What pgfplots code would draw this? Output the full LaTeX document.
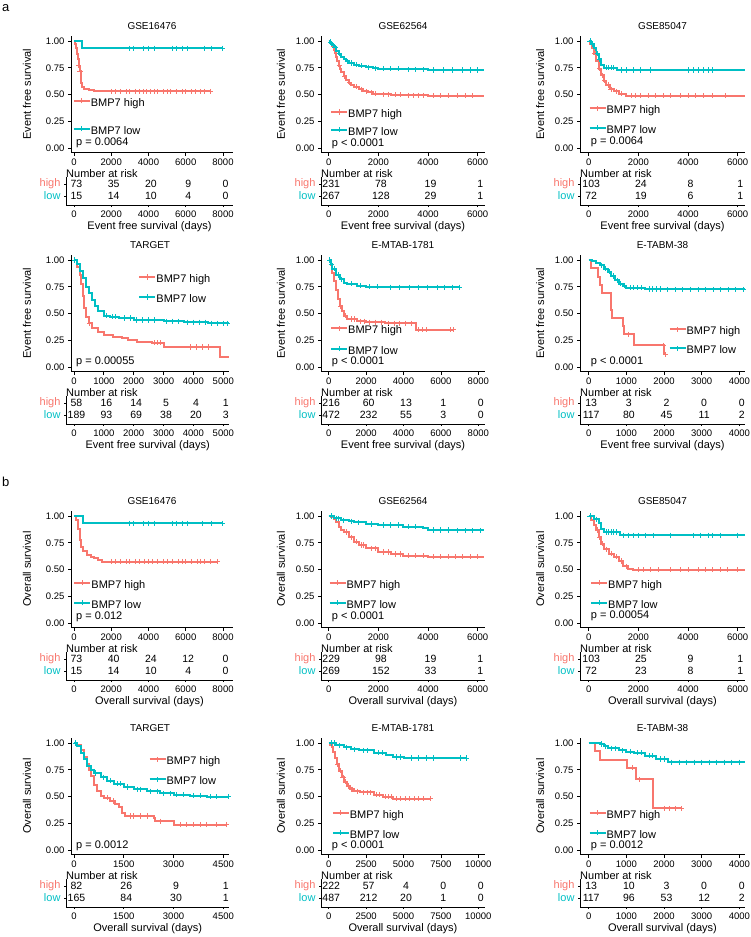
\documentclass[border=0pt]{standalone}
\usepackage{fontspec}
\setmainfont{Liberation Sans}
\usepackage{pgfplots}
\pgfplotsset{compat=1.18}
\definecolor{kmred}{HTML}{F8766D}
\definecolor{kmteal}{HTML}{00BFC4}
\tikzset{pv/.style={anchor=west, inner sep=0pt, font=\fontsize{11}{12}\selectfont}}
\pgfplotsset{
 every axis title shift=0pt,
 base/.style={scale only axis, clip=false, axis x line*=bottom, axis y line*=left,
   axis line style={-, line width=0.9pt, black},
   tick align=outside, major tick length=3pt, tick style={line width=0.8pt, black},
   tick label style={font=\fontsize{9.5}{10}\selectfont, black},
   scaled x ticks=false,
   /pgf/number format/1000 sep={}, /pgf/number format/assume math mode=true,
   minor tick num=0, anchor=south west},
 km/.style={base, height=117pt, ymin=-0.04, ymax=1.05, ytick={0,0.25,0.5,0.75,1},
   yticklabel style={/pgf/number format/.cd, fixed, fixed zerofill, precision=2},
   ylabel style={anchor=center, font=\fontsize{11}{12}\selectfont},
   title style={at={(axis description cs:0.5,1)}, anchor=base, yshift=6.5pt, font=\fontsize{10}{11}\selectfont},
   legend style={draw=none, fill=none, inner sep=0pt, anchor=north west, font=\fontsize{11}{12}\selectfont,
     nodes={inner sep=0pt, text height=7.5pt, text depth=2.5pt}, /tikz/every even column/.style={column sep=5pt}},
   legend cell align=left},
 hi/.style={kmred, line width=2pt, const plot, mark=none, forget plot},
 lo/.style={kmteal, line width=2pt, const plot, mark=none, forget plot},
 hic/.style={kmred, only marks, mark=+, mark size=2.6pt, mark options={line width=0.8pt}, forget plot},
 loc/.style={kmteal, only marks, mark=+, mark size=2.6pt, mark options={line width=0.8pt}, forget plot},
 leghi/.style={legend image code/.code={\draw[kmred, line width=2pt] (0pt,3pt)--(16pt,3pt); \draw[kmred, line width=0.8pt] (8pt,0.4pt)--(8pt,5.6pt);}},
 leglo/.style={legend image code/.code={\draw[kmteal, line width=2pt] (0pt,3pt)--(16pt,3pt); \draw[kmteal, line width=0.8pt] (8pt,0.4pt)--(8pt,5.6pt);}},
 rt/.style={base, height=28pt, ymin=0.25, ymax=2.583, ytick={1,2},
   yticklabels={{\textcolor{kmteal}{low}},{\textcolor{kmred}{high}}},
   yticklabel style={font=\fontsize{11}{12}\selectfont}, major tick length=2pt,
   title={Number at risk}, title style={at={(axis description cs:0,1)}, anchor=west, yshift=3.5pt, inner sep=0pt, font=\fontsize{11}{12}\selectfont},
   xlabel style={at={(axis description cs:0.5,0)}, anchor=center, yshift=-22pt, font=\fontsize{11}{12}\selectfont},
   nodes near coords style={font=\fontsize{10.5}{12}\selectfont, anchor=center, black, inner sep=0pt, xshift=2.5pt}},
 rn/.style={draw=none, mark=none, nodes near coords, point meta=explicit symbolic},
}
\begin{document}
\begin{tikzpicture}
\useasboundingbox (0,0) rectangle (750pt,-937pt);
\node[anchor=base west, inner sep=0pt, font=\fontsize{13}{14}\selectfont] at (2pt,-11pt) {a};
\node[anchor=base west, inner sep=0pt, font=\fontsize{13}{14}\selectfont] at (2pt,-486pt) {b};

% ================= A1 GSE16476 EFS
\begin{axis}[km, at={(71pt,-152.6pt)}, width=162pt, xmin=-161, xmax=8537, xtick={0,2000,...,8000},
  title={GSE16476}, ylabel={Event free survival}, ylabel style={at={(axis description cs:-0.272,0.5)}},
  legend style={at={(axis cs:-70,0.472)}, row sep=16.7pt}]
\addlegendimage{leghi}\addlegendentry{BMP7 high}
\addlegendimage{leglo}\addlegendentry{BMP7 low}
\addplot[hi] coordinates {(0,1)(50,0.97)(100,0.93)(150,0.88)(200,0.83)(250,0.77)(300,0.72)(350,0.66)(400,0.61)(450,0.57)(550,0.55)(800,0.545)(1100,0.53)(7300,0.53)};
\addplot[hic] coordinates {(260,0.77)(320,0.72)(2000,0.53)(2200,0.53)(2500,0.53)(2800,0.53)(3000,0.53)(3300,0.53)(3500,0.53)(3700,0.53)(3900,0.53)(4100,0.53)(4300,0.53)(4500,0.53)(4800,0.53)(5000,0.53)(5200,0.53)(5500,0.53)(5800,0.53)(6000,0.53)(6300,0.53)(6500,0.53)(6800,0.53)(7000,0.53)(7300,0.53)};
\addplot[lo] coordinates {(0,1)(410,0.933)(7950,0.933)};
\addplot[loc] coordinates {(3000,0.933)(3200,0.933)(3700,0.933)(4000,0.933)(4300,0.933)(5300,0.933)(5500,0.933)(5800,0.933)(6100,0.933)(7000,0.933)(7400,0.933)(7950,0.933)};
\node[pv] at (axis cs:107,0.052) {p = 0.0064};
\end{axis}
\begin{axis}[rt, at={(66pt,-205pt)}, width=167pt, xmin=-429, xmax=8537, xtick={0,2000,...,8000}, xlabel={Event free survival (days)}]
\addplot[rn] coordinates {(0,2)[73] (2000,2)[35] (4000,2)[20] (6000,2)[9] (8000,2)[0] (0,1)[15] (2000,1)[14] (4000,1)[10] (6000,1)[4] (8000,1)[0]};
\end{axis}

% ================= A2 GSE62564 EFS
\begin{axis}[km, at={(321pt,-152.6pt)}, width=164pt, xmin=-310, xmax=6294, xtick={0,2000,...,6000},
  title={GSE62564}, ylabel={Event free survival}, ylabel style={at={(axis description cs:-0.244,0.5)}},
  legend style={at={(axis cs:52,0.369)}, row sep=6.7pt}]
\addlegendimage{leghi}\addlegendentry{BMP7 high}
\addlegendimage{leglo}\addlegendentry{BMP7 low}
\addplot[hi] coordinates {(0,1)(50,0.985)(100,0.97)(150,0.95)(200,0.92)(250,0.89)(300,0.85)(350,0.81)(400,0.77)(450,0.74)(500,0.71)(600,0.67)(700,0.64)(800,0.61)(900,0.59)(1000,0.575)(1200,0.55)(1400,0.53)(1600,0.52)(1800,0.51)(2000,0.505)(2500,0.50)(3000,0.495)(4000,0.49)(6250,0.49)};
\addplot[hic] coordinates {(420,0.77)(650,0.67)(850,0.61)(1100,0.575)(1300,0.55)(1500,0.53)(1700,0.52)(1900,0.51)(2200,0.505)(2400,0.505)(2700,0.50)(2900,0.50)(3200,0.495)(3400,0.495)(3600,0.495)(3800,0.495)(4200,0.49)(4500,0.49)(4800,0.49)(5200,0.49)(5500,0.49)(5800,0.49)};
\addplot[lo] coordinates {(0,1)(50,0.99)(100,0.975)(150,0.96)(200,0.94)(300,0.91)(400,0.88)(500,0.85)(600,0.83)(700,0.81)(800,0.795)(1000,0.78)(1200,0.77)(1500,0.755)(1800,0.745)(2000,0.74)(3000,0.735)(4000,0.73)(6250,0.73)};
\addplot[loc] coordinates {(80,0.99)(120,0.975)(250,0.94)(450,0.88)(750,0.81)(900,0.795)(1100,0.78)(1300,0.77)(1600,0.755)(1900,0.745)(2200,0.74)(2500,0.74)(2800,0.74)(3200,0.735)(3500,0.735)(3800,0.735)(4200,0.73)(4600,0.73)(5000,0.73)(5400,0.73)(5700,0.73)(6000,0.73)};
\node[pv] at (axis cs:121,0.043) {p < 0.0001};
\end{axis}
\begin{axis}[rt, at={(321pt,-205pt)}, width=164pt, xmin=-310, xmax=6294, xtick={0,2000,...,6000}, xlabel={Event free survival (days)}]
\addplot[rn] coordinates {(0,2)[231] (2000,2)[78] (4000,2)[19] (6000,2)[1] (0,1)[267] (2000,1)[128] (4000,1)[29] (6000,1)[1]};
\end{axis}

% ================= A3 GSE85047 EFS
\begin{axis}[km, at={(580pt,-152.6pt)}, width=165pt, xmin=-350, xmax=6294, xtick={0,2000,...,6000},
  title={GSE85047}, ylabel={Event free survival}, ylabel style={at={(axis description cs:-0.242,0.5)}},
  legend style={at={(axis cs:-16,0.401)}, row sep=8.3pt}]
\addlegendimage{leghi}\addlegendentry{BMP7 high}
\addlegendimage{leglo}\addlegendentry{BMP7 low}
\addplot[hi] coordinates {(0,1)(60,0.97)(120,0.93)(200,0.88)(300,0.81)(400,0.74)(500,0.68)(600,0.63)(700,0.59)(850,0.55)(1000,0.53)(1200,0.51)(1500,0.49)(6300,0.49)};
\addplot[hic] coordinates {(250,0.88)(450,0.74)(550,0.68)(650,0.63)(800,0.59)(900,0.55)(1100,0.53)(1300,0.51)(1700,0.49)(1900,0.49)(2100,0.49)(2400,0.49)(2700,0.49)(3000,0.49)(3300,0.49)(3700,0.49)(4000,0.49)(4300,0.49)(4600,0.49)(5000,0.49)(5500,0.49)};
\addplot[lo] coordinates {(0,1)(100,0.97)(200,0.93)(300,0.88)(400,0.83)(500,0.78)(600,0.75)(1150,0.73)(6300,0.73)};
\addplot[loc] coordinates {(50,1)(150,0.97)(350,0.88)(450,0.83)(700,0.75)(800,0.75)(900,0.75)(1000,0.75)(1300,0.73)(1500,0.73)(1800,0.73)(2100,0.73)(2500,0.73)(4000,0.73)(4200,0.73)(4400,0.73)(4600,0.73)(4800,0.73)(5000,0.73)};
\node[pv] at (axis cs:80,0.056) {p = 0.0064};
\end{axis}
\begin{axis}[rt, at={(580pt,-205pt)}, width=165pt, xmin=-350, xmax=6294, xtick={0,2000,...,6000}, xlabel={Event free survival (days)}]
\addplot[rn] coordinates {(0,2)[103] (2000,2)[24] (4000,2)[8] (6000,2)[1] (0,1)[72] (2000,1)[19] (4000,1)[6] (6000,1)[1]};
\end{axis}

% ================= A4 TARGET EFS
\begin{axis}[km, at={(71pt,-371.6pt)}, width=158.3pt, xmin=-100, xmax=5201, xtick={0,1000,...,5000},
  title={TARGET}, ylabel={Event free survival}, ylabel style={at={(axis description cs:-0.278,0.5)}},
  legend style={at={(axis cs:2153,0.872)}, row sep=9pt}]
\addlegendimage{leghi}\addlegendentry{BMP7 high}
\addlegendimage{leglo}\addlegendentry{BMP7 low}
\addplot[hi] coordinates {(0,1)(100,0.93)(200,0.86)(250,0.78)(300,0.66)(350,0.55)(400,0.47)(500,0.41)(600,0.37)(800,0.33)(1000,0.30)(1300,0.28)(1600,0.27)(1800,0.25)(2100,0.24)(2600,0.23)(3000,0.19)(4900,0.10)(5200,0.10)};
\addplot[hic] coordinates {(520,0.41)(2700,0.23)(2800,0.23)(2900,0.23)(3900,0.19)(4100,0.19)(4300,0.19)(4500,0.19)};
\addplot[lo] coordinates {(0,1)(100,0.96)(200,0.90)(300,0.83)(400,0.75)(500,0.69)(600,0.63)(700,0.57)(800,0.52)(1000,0.48)(1200,0.47)(1500,0.46)(2000,0.44)(3000,0.43)(3700,0.42)(4500,0.41)(5200,0.41)};
\addplot[loc] coordinates {(30,1)(1100,0.48)(1300,0.47)(1400,0.47)(1700,0.46)(1900,0.46)(2100,0.44)(2300,0.44)(2500,0.44)(2700,0.44)(3100,0.43)(3300,0.43)(3500,0.43)(3800,0.42)(4000,0.42)(4200,0.42)(4400,0.42)(4600,0.41)(4800,0.41)(5000,0.41)(5150,0.41)};
\node[pv] at (axis cs:67,0.052) {p = 0.00055};
\end{axis}
\begin{axis}[rt, at={(66pt,-424pt)}, width=163.3pt, xmin=-267.5, xmax=5201, xtick={0,1000,...,5000}, xlabel={Event free survival (days)}]
\addplot[rn] coordinates {(0,2)[58] (1000,2)[16] (2000,2)[14] (3000,2)[5] (4000,2)[4] (5000,2)[1] (0,1)[189] (1000,1)[93] (2000,1)[69] (3000,1)[38] (4000,1)[20] (5000,1)[3]};
\end{axis}

% ================= A5 E-MTAB-1781 EFS
\begin{axis}[km, at={(321pt,-371.6pt)}, width=164pt, xmin=-412, xmax=8358, xtick={0,2000,...,8000},
  title={E-MTAB-1781}, ylabel={Event free survival}, ylabel style={at={(axis description cs:-0.244,0.5)}},
  legend style={at={(axis cs:70,0.394)}, row sep=9.3pt}]
\addlegendimage{leghi}\addlegendentry{BMP7 high}
\addlegendimage{leglo}\addlegendentry{BMP7 low}
\addplot[hi] coordinates {(0,1)(100,0.95)(200,0.88)(300,0.80)(400,0.72)(500,0.64)(600,0.57)(700,0.52)(800,0.48)(1000,0.45)(1500,0.43)(2000,0.42)(3000,0.41)(4650,0.35)(6650,0.35)};
\addplot[hic] coordinates {(650,0.57)(900,0.48)(1200,0.45)(1400,0.45)(1700,0.43)(1900,0.43)(2200,0.42)(2500,0.42)(2800,0.42)(3200,0.41)(3500,0.41)(3800,0.41)(4100,0.41)(4400,0.41)(4800,0.35)(5000,0.35)(5200,0.35)(6500,0.35)(6650,0.35)};
\addplot[lo] coordinates {(0,1)(100,0.96)(200,0.92)(400,0.86)(600,0.82)(800,0.79)(1000,0.78)(1500,0.76)(2000,0.75)(3000,0.745)(7000,0.745)};
\addplot[loc] coordinates {(50,1)(150,0.96)(300,0.92)(500,0.86)(700,0.82)(1200,0.78)(1700,0.76)(2200,0.75)(2600,0.75)(3300,0.745)(3800,0.745)(4300,0.745)(4800,0.745)(5300,0.745)(5800,0.745)(6200,0.745)(6600,0.745)(7000,0.745)};
\node[pv] at (axis cs:160,0.052) {p < 0.0001};
\end{axis}
\begin{axis}[rt, at={(321pt,-424pt)}, width=164pt, xmin=-412, xmax=8358, xtick={0,2000,...,8000}, xlabel={Event free survival (days)}]
\addplot[rn] coordinates {(0,2)[216] (2000,2)[60] (4000,2)[13] (6000,2)[1] (8000,2)[0] (0,1)[472] (2000,1)[232] (4000,1)[55] (6000,1)[3] (8000,1)[0]};
\end{axis}

% ================= A6 E-TABM-38 EFS
\begin{axis}[km, at={(580pt,-371.6pt)}, width=165pt, xmin=-231, xmax=4151, xtick={0,1000,...,4000},
  title={E-TABM-38}, ylabel={Event free survival}, ylabel style={at={(axis description cs:-0.242,0.5)}},
  legend style={at={(axis cs:2114,0.385)}, row sep=8.3pt}]
\addlegendimage{leghi}\addlegendentry{BMP7 high}
\addlegendimage{leglo}\addlegendentry{BMP7 low}
\addplot[hi] coordinates {(0,1)(50,0.923)(250,0.846)(300,0.769)(350,0.692)(590,0.615)(600,0.538)(610,0.462)(900,0.385)(950,0.308)(1200,0.205)(2000,0.12)(2050,0.12)};
\addplot[hic] coordinates {(1050,0.308)(1980,0.205)(2050,0.12)};
\addplot[lo] coordinates {(0,1)(100,0.99)(200,0.97)(300,0.95)(400,0.92)(500,0.89)(600,0.85)(700,0.81)(800,0.78)(900,0.76)(1000,0.74)(1500,0.73)(2000,0.725)(4150,0.725)};
\addplot[loc] coordinates {(350,0.95)(450,0.92)(550,0.89)(650,0.85)(750,0.81)(850,0.78)(950,0.76)(1100,0.74)(1200,0.74)(1300,0.74)(1400,0.74)(1600,0.73)(1700,0.73)(1800,0.73)(1900,0.73)(2100,0.725)(2300,0.725)(2500,0.725)(2700,0.725)(2900,0.725)(3100,0.725)(3300,0.725)(3500,0.725)(3700,0.725)(3900,0.725)(4100,0.725)};
\node[pv] at (axis cs:53,0.052) {p < 0.0001};
\end{axis}
\begin{axis}[rt, at={(580pt,-424pt)}, width=165pt, xmin=-231, xmax=4151, xtick={0,1000,...,4000}, xlabel={Event free survival (days)}]
\addplot[rn] coordinates {(0,2)[13] (1000,2)[3] (2000,2)[2] (3000,2)[0] (4000,2)[0] (0,1)[117] (1000,1)[80] (2000,1)[45] (3000,1)[11] (4000,1)[2]};
\end{axis}

% ================= B1 GSE16476 OS
\begin{axis}[km, at={(71pt,-627.6pt)}, width=162pt, xmin=-161, xmax=8537, xtick={0,2000,...,8000},
  title={GSE16476}, ylabel={Overall survival}, ylabel style={at={(axis description cs:-0.272,0.5)}},
  legend style={at={(axis cs:-38,0.410)}, row sep=9pt}]
\addlegendimage{leghi}\addlegendentry{BMP7 high}
\addlegendimage{leglo}\addlegendentry{BMP7 low}
\addplot[hi] coordinates {(0,1)(100,0.96)(200,0.88)(300,0.78)(400,0.71)(500,0.67)(700,0.64)(900,0.62)(1100,0.61)(1300,0.59)(1500,0.575)(7700,0.575)};
\addplot[hic] coordinates {(2000,0.575)(2200,0.575)(2500,0.575)(2800,0.575)(3000,0.575)(3300,0.575)(3500,0.575)(3800,0.575)(4000,0.575)(4200,0.575)(4500,0.575)(4800,0.575)(5000,0.575)(5300,0.575)(5600,0.575)(5800,0.575)(6000,0.575)(6300,0.575)(6600,0.575)(6800,0.575)(7000,0.575)(7300,0.575)(7700,0.575)};
\addplot[lo] coordinates {(0,1)(500,0.933)(7950,0.933)};
\addplot[loc] coordinates {(3000,0.933)(3200,0.933)(3700,0.933)(4000,0.933)(4300,0.933)(5300,0.933)(5500,0.933)(5800,0.933)(6100,0.933)(6900,0.933)(7400,0.933)(7950,0.933)};
\node[pv] at (axis cs:107,0.062) {p = 0.012};
\end{axis}
\begin{axis}[rt, at={(66pt,-680pt)}, width=167pt, xmin=-429, xmax=8537, xtick={0,2000,...,8000}, xlabel={Overall survival (days)}]
\addplot[rn] coordinates {(0,2)[73] (2000,2)[40] (4000,2)[24] (6000,2)[12] (8000,2)[0] (0,1)[15] (2000,1)[14] (4000,1)[10] (6000,1)[4] (8000,1)[0]};
\end{axis}

% ================= B2 GSE62564 OS
\begin{axis}[km, at={(321pt,-627.6pt)}, width=164pt, xmin=-310, xmax=6294, xtick={0,2000,...,6000},
  title={GSE62564}, ylabel={Overall survival}, ylabel style={at={(axis description cs:-0.244,0.5)}},
  legend style={at={(axis cs:-16,0.410)}, row sep=9pt}]
\addlegendimage{leghi}\addlegendentry{BMP7 high}
\addlegendimage{leglo}\addlegendentry{BMP7 low}
\addplot[hi] coordinates {(0,1)(100,0.99)(200,0.97)(300,0.94)(400,0.90)(500,0.87)(600,0.85)(800,0.80)(1000,0.76)(1200,0.73)(1500,0.70)(2000,0.665)(2500,0.645)(3000,0.63)(4000,0.62)(6250,0.62)};
\addplot[hic] coordinates {(700,0.85)(900,0.80)(1100,0.76)(1300,0.73)(1400,0.73)(1700,0.70)(1900,0.70)(2200,0.665)(2400,0.665)(2700,0.645)(2900,0.645)(3200,0.63)(3500,0.63)(3800,0.63)(4200,0.62)(4500,0.62)(4800,0.62)(5100,0.62)(5400,0.62)(5700,0.62)(6000,0.62)};
\addplot[lo] coordinates {(0,1)(200,0.98)(500,0.96)(800,0.95)(1000,0.94)(1500,0.925)(2000,0.915)(3000,0.90)(3800,0.89)(4000,0.87)(5000,0.865)(6250,0.865)};
\addplot[loc] coordinates {(100,1)(300,0.98)(400,0.98)(600,0.96)(900,0.95)(1200,0.94)(1700,0.925)(2200,0.915)(2500,0.915)(2800,0.915)(3200,0.90)(3500,0.90)(4200,0.87)(4500,0.87)(4800,0.87)(5200,0.865)(5500,0.865)(5800,0.865)(6100,0.865)};
\node[pv] at (axis cs:121,0.062) {p < 0.0001};
\end{axis}
\begin{axis}[rt, at={(321pt,-680pt)}, width=164pt, xmin=-310, xmax=6294, xtick={0,2000,...,6000}, xlabel={Overall survival (days)}]
\addplot[rn] coordinates {(0,2)[229] (2000,2)[98] (4000,2)[19] (6000,2)[1] (0,1)[269] (2000,1)[152] (4000,1)[33] (6000,1)[1]};
\end{axis}

% ================= B3 GSE85047 OS
\begin{axis}[km, at={(580pt,-627.6pt)}, width=165pt, xmin=-350, xmax=6294, xtick={0,2000,...,6000},
  title={GSE85047}, ylabel={Overall survival}, ylabel style={at={(axis description cs:-0.242,0.5)}},
  legend style={at={(axis cs:52,0.410)}, row sep=9pt}]
\addlegendimage{leghi}\addlegendentry{BMP7 high}
\addlegendimage{leglo}\addlegendentry{BMP7 low}
\addplot[hi] coordinates {(0,1)(100,0.96)(200,0.92)(300,0.87)(400,0.80)(500,0.74)(600,0.69)(800,0.65)(1000,0.62)(1200,0.58)(1400,0.53)(1600,0.51)(1800,0.50)(6300,0.50)};
\addplot[hic] coordinates {(350,0.87)(450,0.80)(550,0.74)(700,0.69)(900,0.65)(1100,0.62)(1300,0.58)(1500,0.53)(2000,0.50)(2200,0.50)(2500,0.50)(2800,0.50)(3300,0.50)(3700,0.50)(4000,0.50)(4400,0.50)(4700,0.50)(5000,0.50)(5300,0.50)(5600,0.50)(6000,0.50)};
\addplot[lo] coordinates {(0,1)(200,0.97)(400,0.93)(500,0.88)(600,0.85)(1250,0.82)(6300,0.82)};
\addplot[loc] coordinates {(50,1)(300,0.97)(700,0.85)(800,0.85)(900,0.85)(1000,0.85)(1100,0.85)(1400,0.82)(1600,0.82)(1800,0.82)(2000,0.82)(2300,0.82)(2600,0.82)(3300,0.82)(4200,0.82)(4500,0.82)(4800,0.82)(5000,0.82)(5300,0.82)(6000,0.82)};
\node[pv] at (axis cs:80,0.068) {p = 0.00054};
\end{axis}
\begin{axis}[rt, at={(580pt,-680pt)}, width=165pt, xmin=-350, xmax=6294, xtick={0,2000,...,6000}, xlabel={Overall survival (days)}]
\addplot[rn] coordinates {(0,2)[103] (2000,2)[25] (4000,2)[9] (6000,2)[1] (0,1)[72] (2000,1)[23] (4000,1)[8] (6000,1)[1]};
\end{axis}

% ================= B4 TARGET OS
\begin{axis}[km, at={(71pt,-854.6pt)}, width=158.3pt, xmin=-90, xmax=4681, xtick={0,1500,3000,4500},
  title={TARGET}, ylabel={Overall survival}, ylabel style={at={(axis description cs:-0.278,0.5)}},
  legend style={at={(axis cs:2240,0.879)}, row sep=9pt}]
\addlegendimage{leghi}\addlegendentry{BMP7 high}
\addlegendimage{leglo}\addlegendentry{BMP7 low}
\addplot[hi] coordinates {(0,1)(100,0.98)(200,0.93)(300,0.87)(400,0.80)(450,0.75)(500,0.69)(600,0.61)(700,0.55)(800,0.51)(900,0.49)(1100,0.46)(1250,0.43)(1350,0.40)(1450,0.35)(1550,0.32)(2400,0.30)(2450,0.27)(3000,0.24)(4600,0.24)};
\addplot[hic] coordinates {(1000,0.49)(1200,0.46)(1700,0.32)(1800,0.32)(2000,0.32)(2200,0.32)(2600,0.27)(3200,0.24)(3400,0.24)(3600,0.24)(3800,0.24)(4000,0.24)(4300,0.24)(4600,0.24)};
\addplot[lo] coordinates {(0,1)(100,0.97)(200,0.91)(300,0.85)(400,0.79)(500,0.75)(600,0.72)(800,0.68)(1000,0.65)(1200,0.62)(1500,0.59)(1800,0.57)(2200,0.55)(2600,0.53)(3000,0.52)(3500,0.51)(4000,0.50)(4650,0.50)};
\addplot[loc] coordinates {(50,1)(650,0.72)(900,0.68)(1100,0.65)(1300,0.62)(1400,0.62)(1600,0.59)(1900,0.57)(2000,0.57)(2300,0.55)(2500,0.55)(2700,0.53)(2900,0.53)(3100,0.52)(3300,0.52)(3600,0.51)(3800,0.51)(4100,0.50)(4300,0.50)(4650,0.50)};
\node[pv] at (axis cs:60,0.043) {p = 0.0012};
\end{axis}
\begin{axis}[rt, at={(66pt,-907pt)}, width=163.3pt, xmin=-240.7, xmax=4681, xtick={0,1500,3000,4500}, xlabel={Overall survival (days)}]
\addplot[rn] coordinates {(0,2)[82] (1500,2)[26] (3000,2)[9] (4500,2)[1] (0,1)[165] (1500,1)[84] (3000,1)[30] (4500,1)[1]};
\end{axis}

% ================= B5 E-MTAB-1781 OS
\begin{axis}[km, at={(321pt,-854.6pt)}, width=164pt, xmin=-515, xmax=10448, xtick={0,2500,...,10000},
  title={E-MTAB-1781}, ylabel={Overall survival}, ylabel style={at={(axis description cs:-0.244,0.5)}},
  legend style={at={(axis cs:200,0.382)}, row sep=9pt}]
\addlegendimage{leghi}\addlegendentry{BMP7 high}
\addlegendimage{leglo}\addlegendentry{BMP7 low}
\addplot[hi] coordinates {(0,1)(100,0.985)(200,0.96)(300,0.92)(400,0.86)(535,0.80)(700,0.74)(870,0.68)(1000,0.64)(1200,0.60)(1425,0.57)(1700,0.55)(2090,0.54)(3000,0.52)(3650,0.50)(4320,0.48)(6770,0.48)};
\addplot[hic] coordinates {(600,0.80)(800,0.74)(950,0.68)(1100,0.64)(1300,0.60)(1500,0.57)(1600,0.57)(1900,0.55)(2300,0.54)(2600,0.54)(2800,0.54)(3200,0.52)(3400,0.52)(3800,0.50)(4000,0.50)(4200,0.50)(4500,0.48)(4800,0.48)(5100,0.48)(5400,0.48)(5700,0.48)(6000,0.48)(6300,0.48)(6770,0.48)};
\addplot[lo] coordinates {(0,1)(500,0.98)(1000,0.96)(1500,0.94)(2000,0.93)(3000,0.91)(3800,0.89)(4300,0.87)(5000,0.86)(9200,0.86)};
\addplot[loc] coordinates {(200,1)(400,1)(700,0.98)(1200,0.96)(1700,0.94)(2300,0.93)(2600,0.93)(3300,0.91)(3600,0.91)(4500,0.87)(4800,0.87)(5500,0.86)(6000,0.86)(6500,0.86)(7000,0.86)(8800,0.86)(9200,0.86)};
\node[pv] at (axis cs:200,0.043) {p < 0.0001};
\end{axis}
\begin{axis}[rt, at={(321pt,-907pt)}, width=164pt, xmin=-515, xmax=10448, xtick={0,2500,...,10000}, xlabel={Overall survival (days)}]
\addplot[rn] coordinates {(0,2)[222] (2500,2)[57] (5000,2)[4] (7500,2)[0] (10000,2)[0] (0,1)[487] (2500,1)[212] (5000,1)[20] (7500,1)[1] (10000,1)[0]};
\end{axis}

% ================= B6 E-TABM-38 OS
\begin{axis}[km, at={(580pt,-854.6pt)}, width=165pt, xmin=-231, xmax=4151, xtick={0,1000,...,4000},
  title={E-TABM-38}, ylabel={Overall survival}, ylabel style={at={(axis description cs:-0.242,0.5)}},
  legend style={at={(axis cs:-10,0.382)}, row sep=9pt}]
\addlegendimage{leghi}\addlegendentry{BMP7 high}
\addlegendimage{leglo}\addlegendentry{BMP7 low}
\addplot[hi] coordinates {(0,1)(170,0.923)(300,0.846)(1010,0.77)(1250,0.66)(1700,0.39)(2450,0.39)};
\addplot[hic] coordinates {(1150,0.77)(1350,0.66)(2000,0.39)(2150,0.39)(2300,0.39)(2450,0.39)};
\addplot[lo] coordinates {(0,1)(300,0.99)(400,0.97)(500,0.95)(800,0.93)(1000,0.92)(1200,0.91)(1500,0.88)(1800,0.85)(2100,0.82)(4150,0.82)};
\addplot[loc] coordinates {(350,0.99)(450,0.97)(600,0.95)(700,0.95)(900,0.93)(1100,0.92)(1300,0.91)(1400,0.91)(1600,0.88)(1700,0.88)(1900,0.85)(2000,0.85)(2200,0.82)(2400,0.82)(2600,0.82)(2800,0.82)(3000,0.82)(3200,0.82)(3400,0.82)(3600,0.82)(3800,0.82)(4000,0.82)};
\node[pv] at (axis cs:53,0.043) {p = 0.0012};
\end{axis}
\begin{axis}[rt, at={(580pt,-907pt)}, width=165pt, xmin=-231, xmax=4151, xtick={0,1000,...,4000}, xlabel={Overall survival (days)}]
\addplot[rn] coordinates {(0,2)[13] (1000,2)[10] (2000,2)[3] (3000,2)[0] (4000,2)[0] (0,1)[117] (1000,1)[96] (2000,1)[53] (3000,1)[12] (4000,1)[2]};
\end{axis}
\end{tikzpicture}
\end{document}
